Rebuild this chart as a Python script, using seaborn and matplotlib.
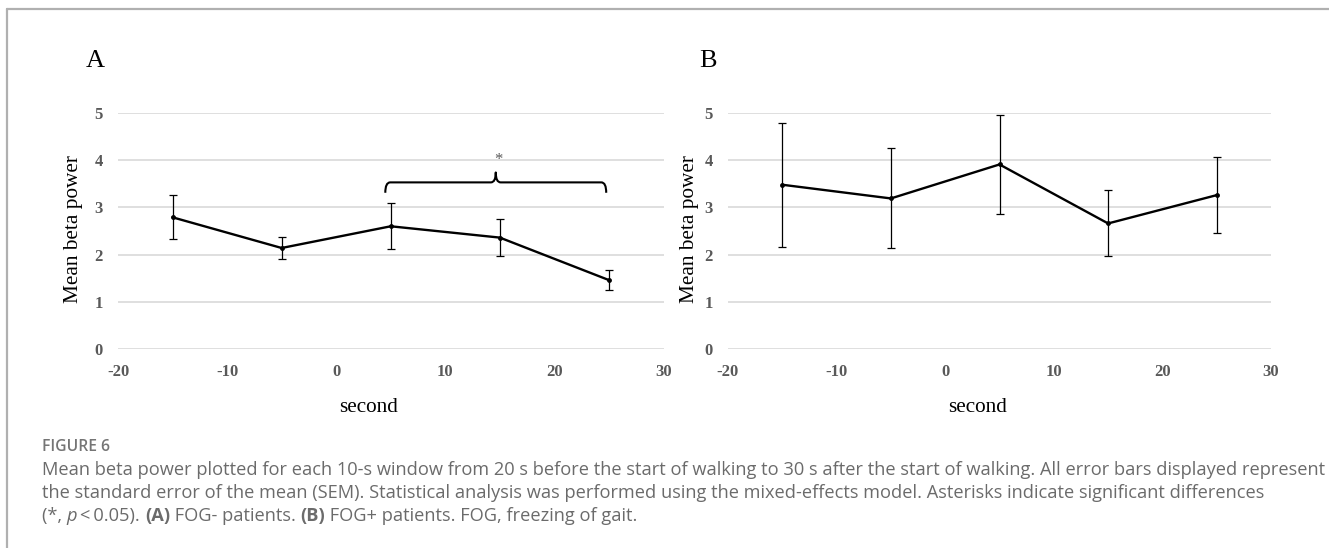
import matplotlib
matplotlib.use("Agg")
import matplotlib.pyplot as plt
from matplotlib.lines import Line2D
from matplotlib.path import Path
from matplotlib.patches import PathPatch
import numpy as np
import pandas as pd
import seaborn as sns

# ---------------- data ----------------
seconds = [-15, -5, 5, 15, 25]
mean_A = [2.79, 2.14, 2.60, 2.36, 1.46]
sem_A = [0.47, 0.235, 0.49, 0.40, 0.215]
mean_B = [3.48, 3.19, 3.91, 2.66, 3.26]
sem_B = [1.31, 1.06, 1.05, 0.70, 0.80]
x_ticks = [-20, -10, 0, 10, 20, 30]
y_ticks = [0, 1, 2, 3, 4, 5]
panel_labels = ["A", "B"]
y_label = "Mean beta power"
x_label = "second"
sig_label = "*"
caption_title = "FIGURE 6"
caption_line1 = ("Mean beta power plotted for each 10-s window from 20 s before the start of walking "
                 "to 30 s after the start of walking. All error bars displayed represent")
caption_line2 = ("the standard error of the mean (SEM). Statistical analysis was performed using the "
                 "mixed-effects model. Asterisks indicate significant differences")
caption_line3 = [("(*, ", {}), ("p", {"style": "italic"}), ("\u2009<\u20090.05). ", {}),
                 ("(A)", {"weight": "bold"}), (" FOG- patients. ", {}),
                 ("(B)", {"weight": "bold"}), (" FOG+ patients. FOG, freezing of gait.", {})]

# ---------------- style ----------------
sns.set_theme(style="white")
plt.rcParams['font.family'] = ['Liberation Serif', 'DejaVu Serif']

W, H = 1329, 548
fig = plt.figure(figsize=(W / 100, H / 100), dpi=100)
fig.patch.set_facecolor("white")

def fx(px):
    return px / W

def fy(py):
    return 1 - py / H

y0_px, y5_px = 349, 113
axA = fig.add_axes([fx(118), fy(y0_px), (663.5 - 118) / W, (y0_px - y5_px) / H])
axB = fig.add_axes([fx(728), fy(y0_px), (1271 - 728) / W, (y0_px - y5_px) / H])

panels = [
    (axA, mean_A, sem_A, panel_labels[0], 95, -0.0807, 0.460),
    (axB, mean_B, sem_B, panel_labels[1], 708, -0.070, 0.460),
]

for ax, means, sems, plab, lab_px, ylab_x, xlab_x in panels:
    df = pd.DataFrame({"second": seconds, "power": means, "sem": sems})
    ax.set_facecolor("white")
    ax.grid(axis="y", color="#d9d9d9", lw=1.2)
    ax.grid(axis="x", visible=False)
    ax.set_axisbelow(True)
    sns.lineplot(data=df, x="second", y="power", ax=ax, color="black", lw=1.7,
                 marker="o", markersize=3.5, markeredgewidth=0, zorder=3)
    ax.errorbar(df["second"], df["power"], yerr=df["sem"], fmt="none", ecolor="black",
                elinewidth=0.9, capsize=2.6, capthick=0.9, zorder=3, clip_on=False)
    ax.set_xlim(x_ticks[0], x_ticks[-1])
    ax.set_ylim(y_ticks[0], y_ticks[-1])
    ax.set_xticks(x_ticks)
    ax.set_yticks(y_ticks)
    ax.set_xticklabels([str(v) for v in x_ticks])
    ax.set_yticklabels([str(v) for v in y_ticks])
    for s in ax.spines.values():
        s.set_visible(False)
    ax.tick_params(axis="both", length=0, labelsize=12, labelcolor="#595959")
    ax.tick_params(axis="y", pad=11)
    ax.tick_params(axis="x", pad=11)
    for t in ax.get_xticklabels() + ax.get_yticklabels():
        t.set_fontweight("bold")
    ax.set_ylabel(y_label, fontsize=15.3, color="black")
    ax.yaxis.set_label_coords(ylab_x, 0.508)
    ax.set_xlabel(x_label, fontsize=15.3, color="black")
    ax.xaxis.set_label_coords(xlab_x, -0.246)
    ax.xaxis.label.set_verticalalignment("center")
    ax.yaxis.label.set_verticalalignment("center")
    fig.text(fx(lab_px), fy(61), plab, fontsize=19, color="black", ha="center", va="center")

# significance bracket on panel A (between windows 5 s and 25 s)
br_left, br_right, br_y, br_drop, br_tip = 4.5, 24.75, 3.53, 3.31, 3.74
br_mid = (br_left + br_right) / 2
r = 0.45
verts = [(br_left, br_drop), (br_left, br_y), (br_left + r, br_y),
         (br_mid - r, br_y), (br_mid, br_y), (br_mid, br_tip),
         (br_mid, br_y), (br_mid + r, br_y),
         (br_right - r, br_y), (br_right, br_y), (br_right, br_drop)]
codes = [Path.MOVETO, Path.CURVE3, Path.CURVE3,
         Path.LINETO, Path.CURVE3, Path.CURVE3,
         Path.MOVETO, Path.CURVE3,
         Path.LINETO, Path.CURVE3, Path.CURVE3]
codes[7] = Path.CURVE3
# rebuild second half properly: from tip down curve to right
verts = [(br_left, br_drop), (br_left, br_y), (br_left + r, br_y),
         (br_mid - r, br_y), (br_mid, br_y), (br_mid, br_tip),
         (br_mid, br_y), (br_mid + r, br_y),
         (br_right - r, br_y), (br_right, br_y), (br_right, br_drop)]
codes = [Path.MOVETO, Path.CURVE3, Path.CURVE3,
         Path.LINETO, Path.CURVE3, Path.CURVE3,
         Path.CURVE3, Path.CURVE3,
         Path.LINETO, Path.CURVE3, Path.CURVE3]
axA.add_patch(PathPatch(Path(verts, codes), fill=False, lw=1.5, edgecolor="black",
                        capstyle="butt", joinstyle="round", zorder=4, clip_on=False))
axA.text(br_mid + 0.2, 4.0, sig_label, fontsize=12, color="#595959", ha="center", va="center")

# frame lines
fig.add_artist(Line2D([fx(7), 1], [fy(9), fy(9)], transform=fig.transFigure, color="#b0b0b0", lw=1.6))
fig.add_artist(Line2D([fx(7), fx(7)], [fy(9), 0], transform=fig.transFigure, color="#b0b0b0", lw=1.6))

# caption
cap_font = ["Open Sans", "DejaVu Sans"]
cap_color = "#6b6b6b"
renderer = fig.canvas.get_renderer()

def text_width(s, size, **kw):
    a = fig.text(0, 0, "x" + s + "x", fontsize=size, family=cap_font, **kw)
    b = fig.text(0, 0, "xx", fontsize=size, family=cap_font, **kw)
    w = a.get_window_extent(renderer).width - b.get_window_extent(renderer).width
    a.remove(); b.remove()
    return w

target_w = 1318 - 42
cap_size = 12 * target_w / text_width(caption_line1, 12)

fig.text(fx(42), fy(447), caption_title, fontsize=cap_size * 0.86, family=cap_font,
         color="#757575", weight="semibold", ha="left", va="center")
fig.text(fx(42), fy(470), caption_line1, fontsize=cap_size, family=cap_font,
         color=cap_color, ha="left", va="center")
fig.text(fx(42), fy(493), caption_line2, fontsize=cap_size, family=cap_font,
         color=cap_color, ha="left", va="center")
xpos = 42
for s, kw in caption_line3:
    fig.text(fx(xpos), fy(516), s, fontsize=cap_size, family=cap_font, color=cap_color,
             ha="left", va="center", **kw)
    xpos += text_width(s, cap_size, **kw)

fig.savefig("out.png", dpi=100, facecolor="white")
